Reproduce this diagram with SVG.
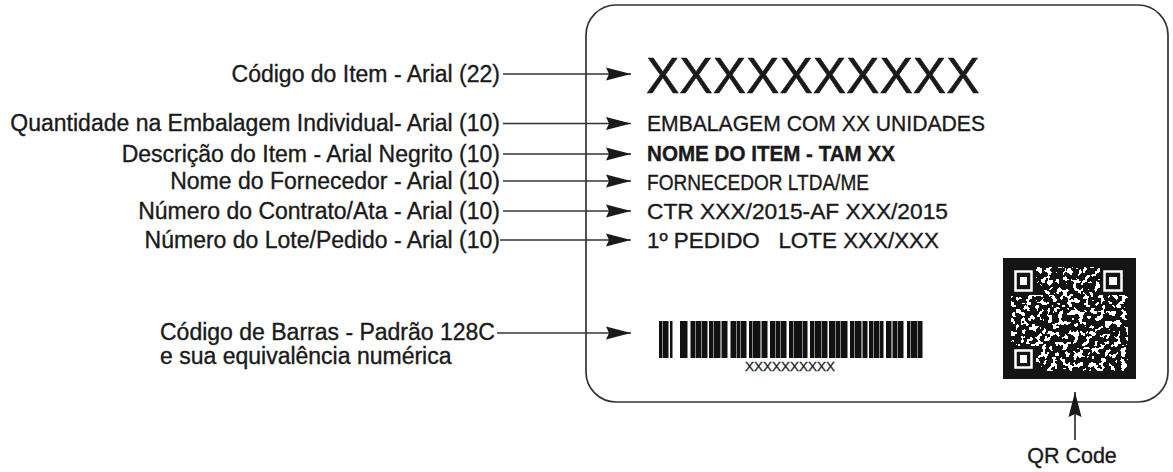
<svg xmlns="http://www.w3.org/2000/svg" width="1173" height="472" viewBox="0 0 1173 472">
<style>
  .lbl { font-family: "Liberation Sans", Arial, sans-serif; font-size: 23px; fill: #1a1a1a; stroke: #1a1a1a; stroke-width: 0.35; }
  .r { text-anchor: end; }
  .tx { font-family: "Liberation Sans", Arial, sans-serif; font-size: 21.5px; fill: #1a1a1a; stroke: #1a1a1a; stroke-width: 0.35; }
  .b { font-weight: bold; }
  .conn { stroke: #333; stroke-width: 1.7; fill: none; marker-end: url(#ah); }
</style>
<defs>
  <marker id="ah" markerUnits="userSpaceOnUse" markerWidth="26" markerHeight="14" refX="25" refY="7" orient="auto">
    <path d="M0,0.5 L25,7 L0,13.5 L3,7 z" fill="#1a1a1a"/>
  </marker>
  <filter id="qrnoise" x="0" y="0" width="1" height="1" color-interpolation-filters="sRGB" primitiveUnits="userSpaceOnUse">
    <feTurbulence type="fractalNoise" baseFrequency="0.19" numOctaves="2" seed="11" result="n"/>
    <feColorMatrix in="n" type="matrix" values="0 0 0 0 1  0 0 0 0 1  0 0 0 0 1  1 0 0 0 -0.06"/>
    <feComponentTransfer><feFuncA type="discrete" tableValues="0 1"/></feComponentTransfer>
  </filter>
</defs>
<rect width="1173" height="472" fill="#ffffff"/>

<g id="card">
  <rect x="586" y="5" width="582" height="397" rx="30" ry="30" fill="none" stroke="#333" stroke-width="1.7"/>
</g>

<g id="label-codigo"><text class="lbl r" x="500" y="82">Código do Item - Arial (22)</text></g>
<g id="label-quantidade"><text class="lbl r" x="500" y="131">Quantidade na Embalagem Individual- Arial (10)</text></g>
<g id="label-descricao"><text class="lbl r" x="500" y="162">Descrição do Item - Arial Negrito (10)</text></g>
<g id="label-fornecedor"><text class="lbl r" x="500" y="189">Nome do Fornecedor - Arial (10)</text></g>
<g id="label-contrato"><text class="lbl r" x="500" y="219">Número do Contrato/Ata - Arial (10)</text></g>
<g id="label-lote"><text class="lbl r" x="500" y="248">Número do Lote/Pedido - Arial (10)</text></g>
<g id="label-barras">
  <text class="lbl" x="160" y="340">Código de Barras - Padrão 128C</text>
  <text class="lbl" x="160" y="364">e sua equivalência numérica</text>
</g>
<g id="label-qr"><text class="lbl" x="1072" y="463" text-anchor="middle" style="font-size:21.5px">QR Code</text></g>

<g id="field-codigo"><text x="646" y="93" style="font-family:'Liberation Sans',Arial,sans-serif;font-size:50px;fill:#1a1a1a;stroke:#1a1a1a;stroke-width:0.5">XXXXXXXXXX</text></g>
<g id="field-quantidade"><text class="tx" x="647" y="131" textLength="338" lengthAdjust="spacingAndGlyphs">EMBALAGEM COM XX UNIDADES</text></g>
<g id="field-descricao"><text class="tx b" x="647" y="161" textLength="248" lengthAdjust="spacingAndGlyphs">NOME DO ITEM - TAM XX</text></g>
<g id="field-fornecedor"><text class="tx" x="647" y="190" textLength="222" lengthAdjust="spacingAndGlyphs">FORNECEDOR LTDA/ME</text></g>
<g id="field-contrato"><text class="tx" x="647" y="219" textLength="301" lengthAdjust="spacingAndGlyphs">CTR XXX/2015-AF XXX/2015</text></g>
<g id="field-lote"><text class="tx" x="647" y="248" xml:space="preserve" style="white-space:pre" textLength="292" lengthAdjust="spacingAndGlyphs">1º PEDIDO   LOTE XXX/XXX</text></g>

<g id="barcode">
  <path fill="#111" d="M659 321h3.5v37h-3.5z M663 321h5.5v37h-5.5z M670 321h2.5v37h-2.5z M680 321h7.5v37h-7.5z M690.5 321h5v37h-5z M696 321h5.5v37h-5.5z M702 321h5.5v37h-5.5z M709 321h4.5v37h-4.5z M714 321h6.5v37h-6.5z M721.5 321h6v37h-6z M730.5 321h5.5v37h-5.5z M736.5 321h4v37h-4z M741 321h5.5v37h-5.5z M749 321h3.5v37h-3.5z M753 321h7.5v37h-7.5z M761.5 321h6v37h-6z M770 321h5.5v37h-5.5z M776 321h4v37h-4z M780.5 321h6v37h-6z M789 321h4.5v37h-4.5z M794 321h8v37h-8z M802.5 321h5v37h-5z M810 321h4.5v37h-4.5z M815 321h6v37h-6z M821.5 321h6v37h-6z M829 321h6v37h-6z M835.5 321h5v37h-5z M841 321h6.5v37h-6.5z M850 321h4v37h-4z M854.5 321h7v37h-7z M862.5 321h5v37h-5z M869 321h4.5v37h-4.5z M874 321h5.5v37h-5.5z M880 321h3.5v37h-3.5z M886 321h5.5v37h-5.5z M892.5 321h5v37h-5z M898 321h5.5v37h-5.5z M907 321h3.5v37h-3.5z M911 321h6.5v37h-6.5z M918 321h4.5v37h-4.5z"/>
  <text x="790" y="371" text-anchor="middle" style="font-family:'Liberation Sans',Arial,sans-serif;font-size:13.5px;fill:#1a1a1a;stroke:#1a1a1a;stroke-width:0.3">XXXXXXXXXX</text>
</g>

<g id="qrcode">
  <rect x="1003" y="258" width="133" height="121" fill="#141414"/>
  <rect x="1011" y="267" width="117" height="104" fill="#fff" filter="url(#qrnoise)"/>
  <rect x="1011" y="267" width="25" height="28" fill="#141414"/>
  <rect x="1100" y="267" width="28" height="28" fill="#141414"/>
  <rect x="1011" y="346" width="25" height="25" fill="#141414"/>
  <g fill="none" stroke="#fff" stroke-width="2.5">
    <rect x="1015.5" y="271.5" width="16" height="19"/>
    <rect x="1104.5" y="271.5" width="17" height="19"/>
    <rect x="1015.5" y="350.5" width="16" height="17"/>
  </g>
  <g fill="#fff">
    <rect x="1020" y="277" width="7" height="8"/>
    <rect x="1109" y="277" width="8" height="8"/>
    <rect x="1020" y="355" width="7" height="8"/>
  </g>
</g>

<g id="connectors">
  <path class="conn" d="M503 74 H631"/>
  <path class="conn" d="M503 123.5 H631"/>
  <path class="conn" d="M503 154 H631"/>
  <path class="conn" d="M503 181 H631"/>
  <path class="conn" d="M503 211 H631"/>
  <path class="conn" d="M500 240 H631"/>
  <path class="conn" d="M497 333 H631"/>
  <path class="conn" d="M1075 440 V392"/>
</g>
</svg>
